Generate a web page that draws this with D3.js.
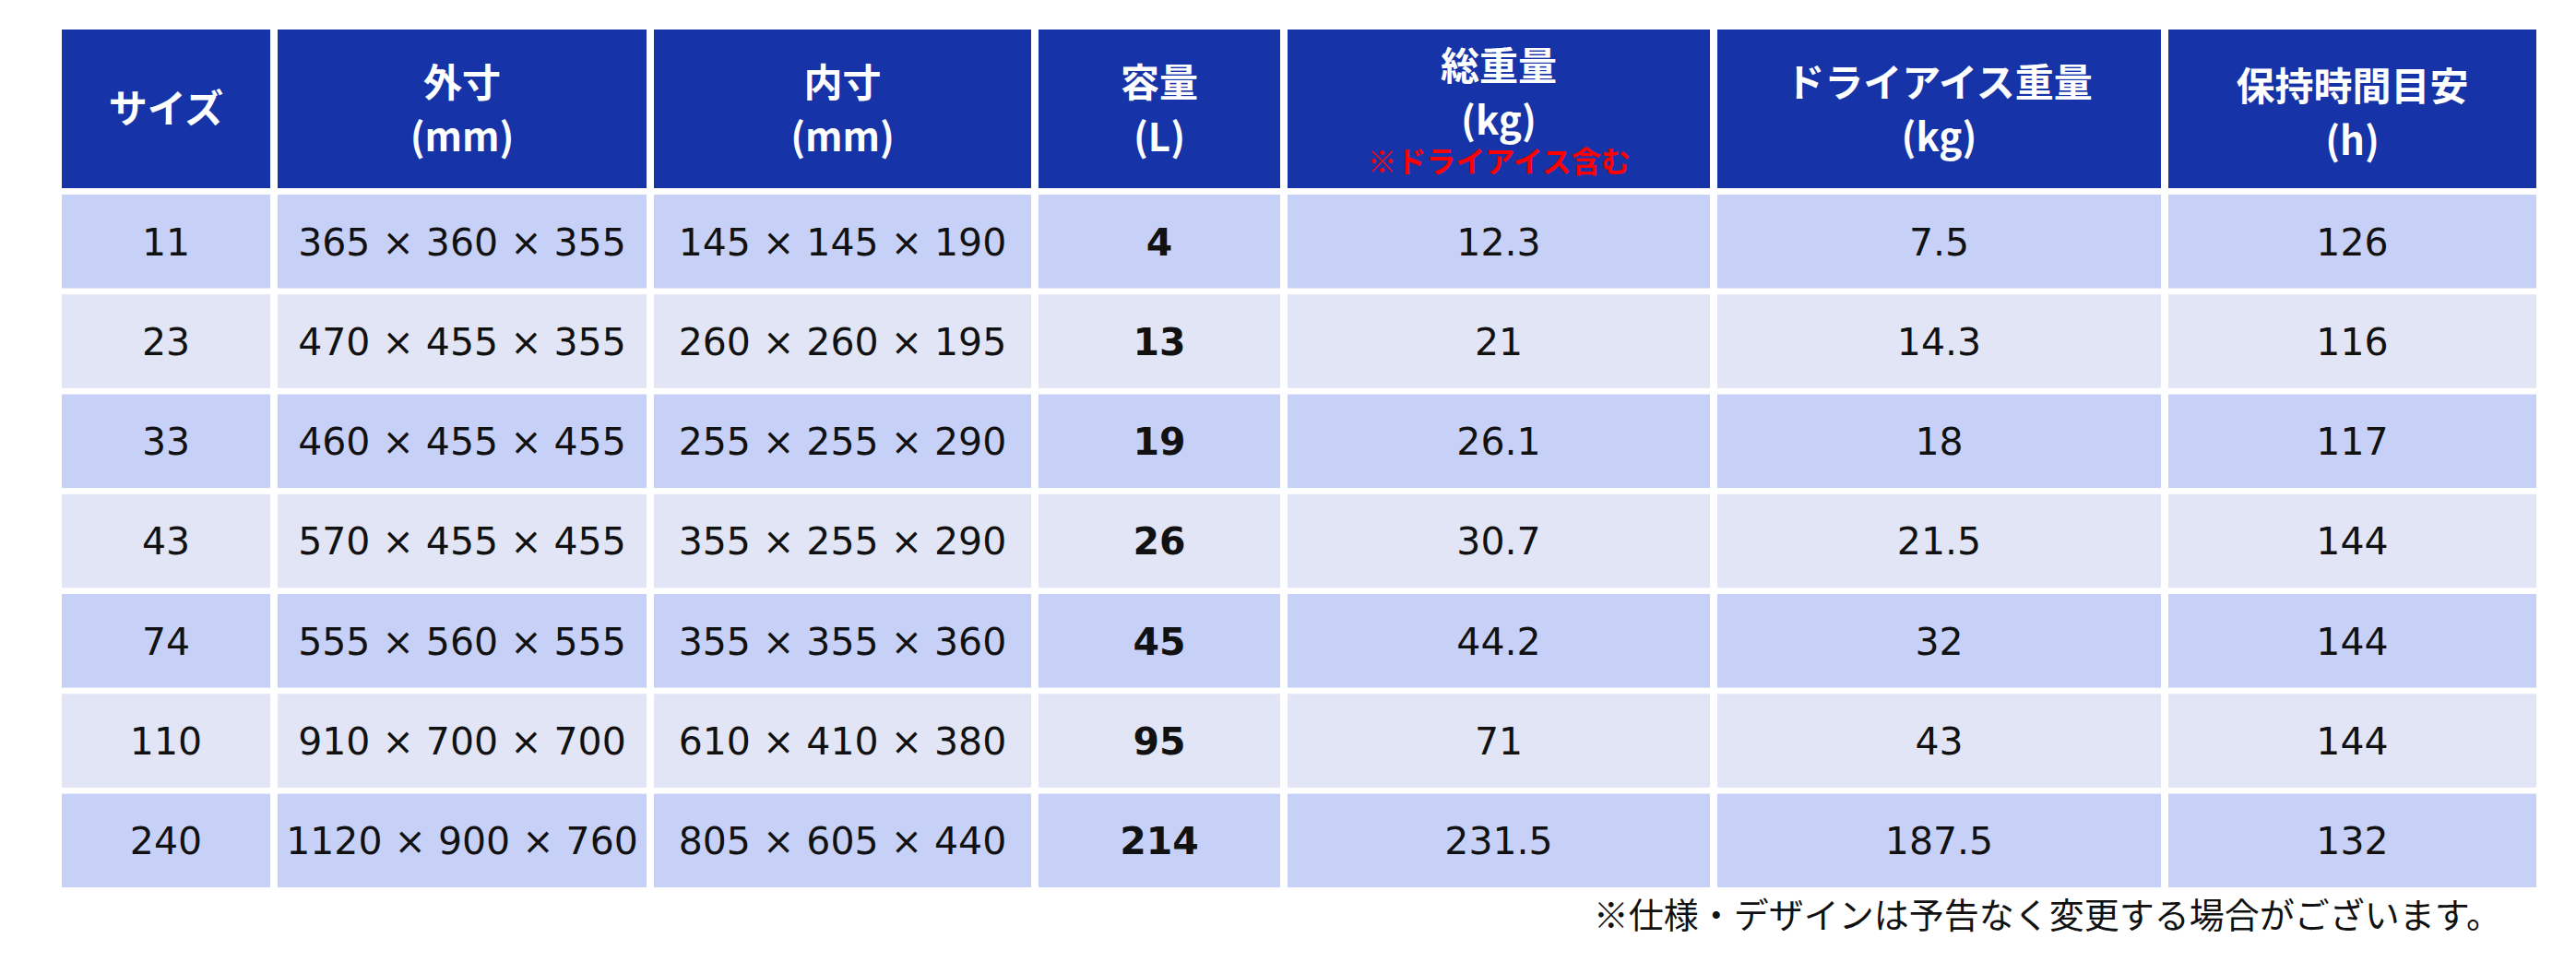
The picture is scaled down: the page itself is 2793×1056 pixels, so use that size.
<!DOCTYPE html>
<html><head><meta charset="utf-8">
<script src="https://cdn.jsdelivr.net/npm/d3@7"></script>
<style>body{margin:0;background:#fff}</style></head>
<body><svg id="c" width="2793" height="1056"></svg>
<script>
const headers = [["サイズ"],["外寸","(mm)"],["内寸","(mm)"],["容量","(L)"],["総重量","(kg)","※ドライアイス含む"],["ドライアイス重量","(kg)"],["保持時間目安","(h)"]];
const sizes = ["11","23","33","43","74","110","240"];
const outer = ["365 × 360 × 355","470 × 455 × 355","460 × 455 × 455","570 × 455 × 455","555 × 560 × 555","910 × 700 × 700","1120 × 900 × 760"];
const inner = ["145 × 145 × 190","260 × 260 × 195","255 × 255 × 290","355 × 255 × 290","355 × 355 × 360","610 × 410 × 380","805 × 605 × 440"];
const capacity = ["4","13","19","26","45","95","214"];
const totalWeight = ["12.3","21","26.1","30.7","44.2","71","231.5"];
const iceWeight = ["7.5","14.3","18","21.5","32","43","187.5"];
const holdHours = ["126","116","117","144","144","144","132"];
const footnote = "※仕様・デザインは予告なく変更する場合がございます。";

const svg = d3.select("#c");
const colEdges = [67,297,705,1122,1392,1858,2347,2750];
const gap = 8;
const x = i => colEdges[i] + (i===0?0:gap/2);
const w = i => colEdges[i+1] - colEdges[i] - (i===0?gap/2:(i===6?gap/2:gap));
const cols = [sizes,outer,inner,capacity,totalWeight,iceWeight,holdHours];
const rowY = d3.scaleBand().domain(d3.range(7)).range([211, 211+7*107.3]).paddingInner(0.062).paddingOuter(0);

const hg = svg.append("g");
headers.forEach((h,i)=>{
  hg.append("rect").attr("x",x(i)).attr("y",32).attr("width",w(i)).attr("height",172).attr("fill","#1633a8");
  const cx = x(i)+w(i)/2;
  let ys = h.length===1?[118]:h.length===3?[72,131,175]:(i===6?[94,153]:[90,149]);
  h.forEach((t,k)=>{
    hg.append("text").attr("x",cx).attr("y",ys[k]).attr("dy","0.36em").attr("text-anchor","middle")
      .attr("font-family","'Noto Sans CJK JP'").attr("font-weight","bold")
      .attr("font-size",k===2?32:42).attr("fill",k===2?"#ff0000":"#fff").text(t);
  });
});
d3.range(7).forEach(r=>{
  cols.forEach((c,i)=>{
    svg.append("rect").attr("x",x(i)).attr("y",rowY(r)).attr("width",w(i)).attr("height",rowY.bandwidth())
      .attr("fill", r%2===0?"#c7d0f7":"#e1e5f5");
    svg.append("text").attr("x",x(i)+w(i)/2).attr("y",rowY(r)+rowY.bandwidth()/2).attr("dy","0.36em")
      .attr("text-anchor","middle").attr("font-family","'DejaVu Sans'").attr("font-size",41)
      .attr("font-weight",i===3?"bold":"normal").attr("fill","#111").text(c[r]);
  });
});
svg.append("text").attr("x",2712).attr("y",992).attr("dy","0.36em").attr("text-anchor","end")
  .attr("font-family","'Noto Sans CJK JP'").attr("font-size",38).attr("fill","#111").text(footnote);
</script></body></html>
